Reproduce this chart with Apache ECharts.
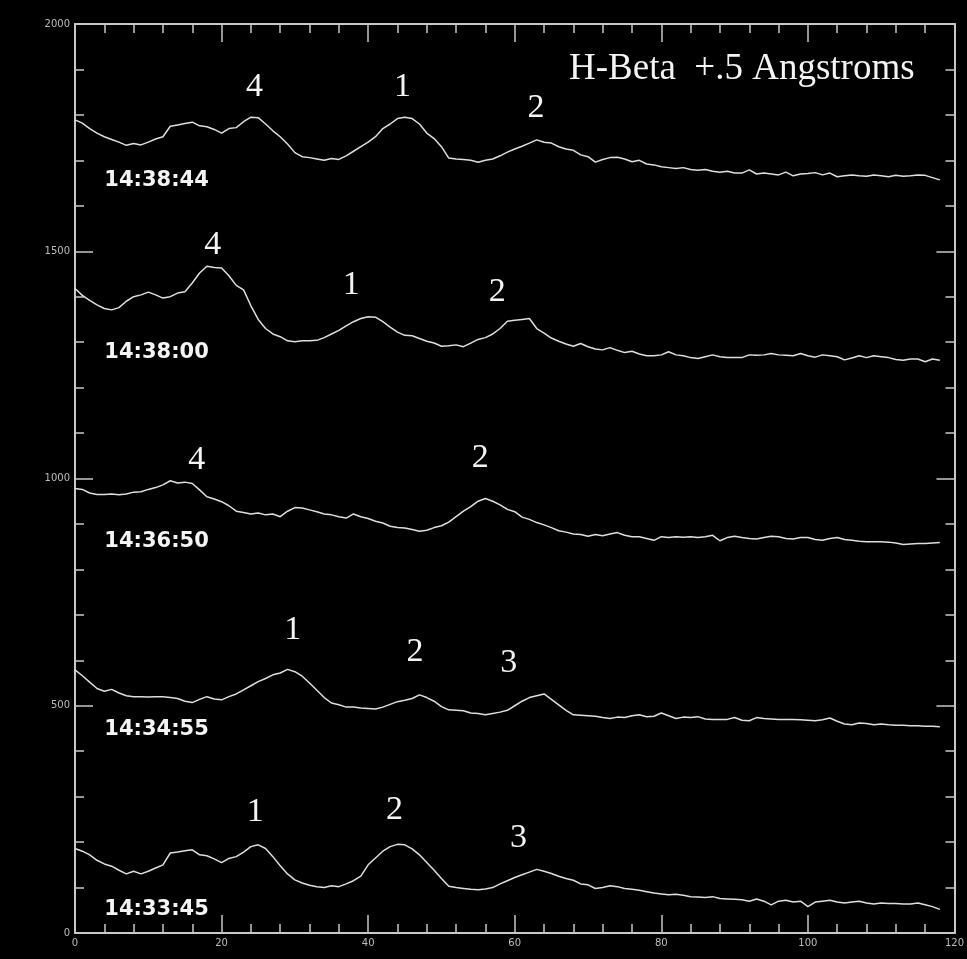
<!DOCTYPE html>
<html>
<head>
<meta charset="utf-8">
<script src="https://cdn.jsdelivr.net/npm/echarts@6/dist/echarts.min.js"></script>
<style>
html,body{margin:0;padding:0;background:#000;}
#chart{width:967px;height:959px;}
</style>
</head>
<body>
<div id="chart"></div>
<script>
// x positions (pixel index along slit), 0..118
const xValues = Array.from({length: 119}, (_, i) => i);

// Intensity profiles (offset stacked)
const s143844 = [1789,1782,1770,1760,1752,1746,1740,1733,1737,1734,1740,1747,1752,1775,1778,1781,1784,1776,1774,1768,
1760,1770,1772,1785,1795,1794,1780,1765,1752,1736,1717,1708,1706,1703,1700,1704,1702,1710,1720,1730,
1740,1752,1770,1780,1792,1795,1792,1780,1760,1748,1730,1705,1703,1702,1700,1696,1700,1703,1710,1718,
1725,1731,1738,1745,1740,1738,1730,1725,1722,1712,1708,1696,1702,1706,1707,1703,1697,1700,1692,1690,
1686,1684,1682,1684,1680,1678,1680,1676,1674,1676,1672,1672,1679,1670,1672,1670,1668,1674,1666,1670,
1671,1673,1668,1672,1664,1666,1668,1666,1665,1668,1666,1664,1667,1665,1666,1668,1667,1662,1657];

const s143800 = [1418,1403,1392,1382,1374,1371,1376,1390,1400,1404,1410,1404,1397,1400,1408,1411,1430,1452,1467,1464,
1463,1446,1425,1415,1380,1350,1330,1318,1312,1303,1301,1303,1303,1304,1310,1318,1326,1336,1345,1352,
1356,1355,1345,1333,1322,1315,1314,1308,1302,1298,1291,1292,1294,1290,1298,1306,1310,1318,1330,1346,
1348,1350,1352,1330,1320,1309,1302,1296,1291,1297,1290,1285,1283,1288,1282,1277,1280,1274,1270,1270,
1272,1279,1272,1270,1266,1264,1268,1272,1268,1266,1266,1266,1272,1271,1272,1275,1272,1271,1270,1275,
1270,1267,1272,1270,1268,1261,1265,1270,1266,1270,1268,1266,1262,1260,1263,1263,1257,1263,1260];

const s143650 = [978,976,968,965,965,966,964,966,970,971,976,980,986,995,990,992,989,975,960,955,
949,940,928,925,922,924,920,922,916,928,936,935,931,927,922,920,916,913,922,916,
912,906,902,895,892,891,888,884,886,892,896,904,916,928,938,950,956,950,942,932,
927,915,910,903,898,892,885,882,878,877,873,877,874,878,881,875,872,872,868,864,
872,870,872,871,872,870,872,875,863,870,873,870,868,867,870,873,872,868,867,870,
870,866,864,868,870,866,864,862,861,861,861,860,858,855,856,857,857,858,859];

const s143455 = [579,566,552,538,532,536,528,522,520,520,519,520,520,518,516,510,507,514,520,515,
513,520,526,535,544,553,560,568,572,580,575,565,550,534,518,506,502,497,497,495,
494,493,497,503,509,512,516,524,518,510,498,491,490,489,484,483,480,483,486,490,
500,510,518,522,526,514,502,490,480,479,478,477,474,472,475,474,478,480,476,477,
484,478,472,475,474,476,471,470,470,470,474,468,467,474,472,471,470,470,470,469,
468,467,469,473,466,460,458,462,461,458,460,458,457,457,456,456,455,455,454];

const s143345 = [186,180,172,160,152,147,138,130,136,130,136,143,150,176,178,181,183,172,170,163,
155,164,168,178,190,194,186,168,148,130,117,110,105,102,100,104,102,108,115,125,
150,165,180,190,195,194,185,172,155,138,120,103,100,98,96,95,97,100,108,115,
122,128,134,140,136,131,125,120,116,108,106,98,100,104,102,98,96,94,91,88,
86,84,85,83,80,79,78,80,76,75,74,73,70,75,70,62,70,72,68,70,
58,68,70,72,68,66,68,70,66,64,66,65,65,64,64,66,62,58,52];

const timeLabels = ['14:38:44','14:38:00','14:36:50','14:34:55','14:33:45'];
const timeLabelCoords = [[4,1655],[4,1278],[4,862],[4,447],[4,51]];

// Peak identification labels per profile: [text, x, y]
const peaks143844 = [['4',24.5,1861],['1',44.7,1861],['2',62.9,1815]];
const peaks143800 = [['4',18.8,1514],['1',37.7,1426],['2',57.6,1410]];
const peaks143650 = [['4',16.6,1041],['2',55.3,1045]];
const peaks143455 = [['1',29.7,667],['2',46.4,618],['3',59.2,594]];
const peaks143345 = [['1',24.6,266],['2',43.6,271],['3',60.5,209]];

const titleText = 'H-Beta  +.5 Angstroms';
const xTicks = {min: 0, max: 120, interval: 20};
const yTicks = {min: 0, max: 2000, interval: 500};

const profiles = [s143844, s143800, s143650, s143455, s143345];
const peakSets = [peaks143844, peaks143800, peaks143650, peaks143455, peaks143345];

const axisColor = '#c8c8c8';
const lineColor = '#dedede';

function makeSeries(vals, idx) {
  const mp = peakSets[idx].map(p => ({
    coord: [p[1], p[2]],
    label: {show: true, formatter: p[0], position: 'inside',
      fontFamily: '"Liberation Serif", "DejaVu Serif", serif', fontSize: 34, color: '#f4f4f4'}
  }));
  mp.push({
    coord: timeLabelCoords[idx],
    label: {show: true, formatter: timeLabels[idx], position: 'right', distance: 0,
      fontFamily: '"DejaVu Sans", sans-serif', fontWeight: 'bold', fontSize: 21, color: '#f4f4f4'}
  });
  return {
    type: 'line',
    name: timeLabels[idx],
    data: vals.map((v, i) => [xValues[i], v]),
    showSymbol: false,
    symbol: 'none',
    smooth: false,
    lineStyle: {color: lineColor, width: 1.5},
    silent: true,
    animation: false,
    markPoint: {
      symbol: 'rect', symbolSize: 0, silent: true, animation: false,
      itemStyle: {color: 'rgba(0,0,0,0)'},
      data: mp
    }
  };
}

const plainNum = v => String(v);

function xAxisDef(pos, showLabel) {
  return {
    type: 'value', position: pos, min: xTicks.min, max: xTicks.max, interval: xTicks.interval,
    axisLine: {show: true, onZero: false, lineStyle: {color: axisColor, width: 2}},
    axisTick: {show: true, inside: true, length: 18, lineStyle: {color: axisColor, width: 1.5}},
    minorTick: {show: true, splitNumber: 5, length: 9, lineStyle: {color: axisColor, width: 1.5}},
    splitLine: {show: false},
    axisLabel: {show: showLabel, formatter: plainNum, color: '#bdbdbd', fontSize: 10,
      fontFamily: '"DejaVu Sans", sans-serif', margin: 5}
  };
}
function yAxisDef(pos, showLabel) {
  return {
    type: 'value', position: pos, min: yTicks.min, max: yTicks.max, interval: yTicks.interval,
    axisLine: {show: true, onZero: false, lineStyle: {color: axisColor, width: 2}},
    axisTick: {show: true, inside: true, length: 18, lineStyle: {color: axisColor, width: 1.5}},
    minorTick: {show: true, splitNumber: 5, length: 9, lineStyle: {color: axisColor, width: 1.5}},
    splitLine: {show: false},
    axisLabel: {show: showLabel, formatter: plainNum, color: '#bdbdbd', fontSize: 10,
      fontFamily: '"DejaVu Sans", sans-serif', margin: 5}
  };
}

const chart = echarts.init(document.getElementById('chart'), null, {renderer: 'canvas'});
chart.setOption({
  backgroundColor: '#000',
  animation: false,
  grid: {left: 75, top: 24, right: 11, bottom: 26, containLabel: false},
  xAxis: [xAxisDef('bottom', true), xAxisDef('top', false)],
  yAxis: [yAxisDef('left', true), yAxisDef('right', false)],
  graphic: [{
    type: 'text', left: 569, top: 51,
    style: {text: titleText, fill: '#f4f4f4', fontSize: 37,
      fontFamily: '"Liberation Serif", "DejaVu Serif", serif'}
  }],
  series: profiles.map((v, i) => makeSeries(v, i))
});
</script>
</body>
</html>
